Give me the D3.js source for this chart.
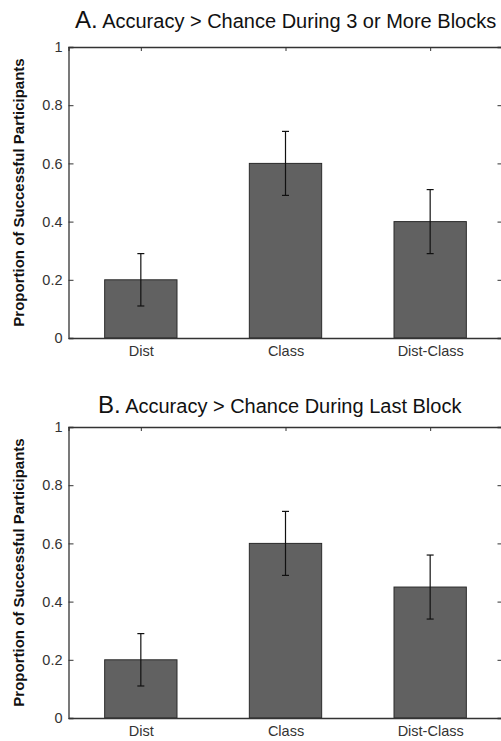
<!DOCTYPE html>
<html><head><meta charset="utf-8">
<script src="https://cdn.jsdelivr.net/npm/d3@7"></script>
<style>body{margin:0;background:#fff}svg{display:block}text{font-family:"Liberation Sans",Arial,sans-serif}</style>
</head><body><svg id="c" width="501" height="741"></svg>
<script>
const categories = ["Dist", "Class", "Dist-Class"];
const valuesA = [0.2, 0.6, 0.4];
const errA = [0.09, 0.11, 0.11];
const valuesB = [0.2, 0.6, 0.45];
const errB = [0.09, 0.11, 0.11];
const yTicks = [0, 0.2, 0.4, 0.6, 0.8, 1];
const titles = [["A.", " Accuracy > Chance During 3 or More Blocks"], ["B.", " Accuracy > Chance During Last Block"]];
const yLabel = "Proportion of Successful Participants";

const svg = d3.select("#c");
const left = 68.5, right = 502.5;
const panels = [
  {top: 47, bottom: 338, vals: valuesA, err: errA, title: titles[0], ty: 28, tx: 75},
  {top: 427, bottom: 718, vals: valuesB, err: errB, title: titles[1], ty: 413, tx: 98}
];
const x = d3.scaleLinear().domain([0.5, 3.5]).range([left, right]);
const font = '"Liberation Sans",Arial,sans-serif';
panels.forEach(p => {
  const g = svg.append("g");
  const y = d3.scaleLinear().domain([0, 1]).range([p.bottom, p.top]);
  // bars
  g.selectAll("rect").data(p.vals).enter().append("rect")
    .attr("x", (d, i) => x(i + 0.75))
    .attr("width", (d, i) => x(i + 1.25) - x(i + 0.75))
    .attr("y", d => y(d)).attr("height", d => y(0) - y(d))
    .attr("fill", "#616161").attr("stroke", "#2a2a2a").attr("stroke-width", 1);
  // error bars
  const eg = g.selectAll("g.err").data(p.vals).enter().append("g").attr("stroke", "#111").attr("stroke-width", 1.2);
  eg.append("line").attr("x1", (d, i) => x(i + 1)).attr("x2", (d, i) => x(i + 1))
    .attr("y1", (d, i) => y(d - p.err[i])).attr("y2", (d, i) => y(d + p.err[i]));
  eg.append("line").attr("x1", (d, i) => x(i + 1) - 3.5).attr("x2", (d, i) => x(i + 1) + 3.5)
    .attr("y1", (d, i) => y(d - p.err[i])).attr("y2", (d, i) => y(d - p.err[i]));
  eg.append("line").attr("x1", (d, i) => x(i + 1) - 3.5).attr("x2", (d, i) => x(i + 1) + 3.5)
    .attr("y1", (d, i) => y(d + p.err[i])).attr("y2", (d, i) => y(d + p.err[i]));
  // axes
  const yAxisL = d3.axisLeft(y).tickValues(yTicks).tickSize(-5).tickPadding(6).tickFormat(d3.format("~g"));
  const gl = g.append("g").attr("transform", `translate(${left},0)`).call(yAxisL);
  gl.selectAll("text").attr("font-size", 14.5).attr("fill", "#333").style("font-family", font);
  const gr = g.append("g").attr("transform", `translate(${right},0)`).call(d3.axisRight(y).tickValues(yTicks).tickSize(-5).tickFormat(""));
  const xAxisB = d3.axisBottom(x).tickValues([1, 2, 3]).tickSize(0).tickPadding(8).tickFormat((d) => categories[d - 1]);
  const gb = g.append("g").attr("transform", `translate(0,${p.bottom})`).call(xAxisB);
  gb.selectAll("text").attr("font-size", 14.5).attr("fill", "#333").style("font-family", font);
  const gt = g.append("g").attr("transform", `translate(0,${p.top})`).call(d3.axisTop(x).tickValues([1, 2, 3]).tickSize(-4).tickFormat(""));
  [gl, gr, gb, gt].forEach(a => { a.select(".domain").attr("stroke", "#333").attr("stroke-width", 1.3); a.selectAll(".tick line").attr("stroke", "#333"); });
  // title
  const t = g.append("text").attr("x", p.tx).attr("y", p.ty).attr("fill", "#111");
  t.append("tspan").attr("font-size", 24).text(p.title[0]);
  t.append("tspan").attr("font-size", 20).text(p.title[1]);
  // y label
  g.append("text").attr("transform", `translate(24,${(p.top + p.bottom) / 2}) rotate(-90)`)
    .attr("text-anchor", "middle").attr("font-size", 15).attr("font-weight", "bold").attr("fill", "#111").text(yLabel);
});
</script></body></html>
